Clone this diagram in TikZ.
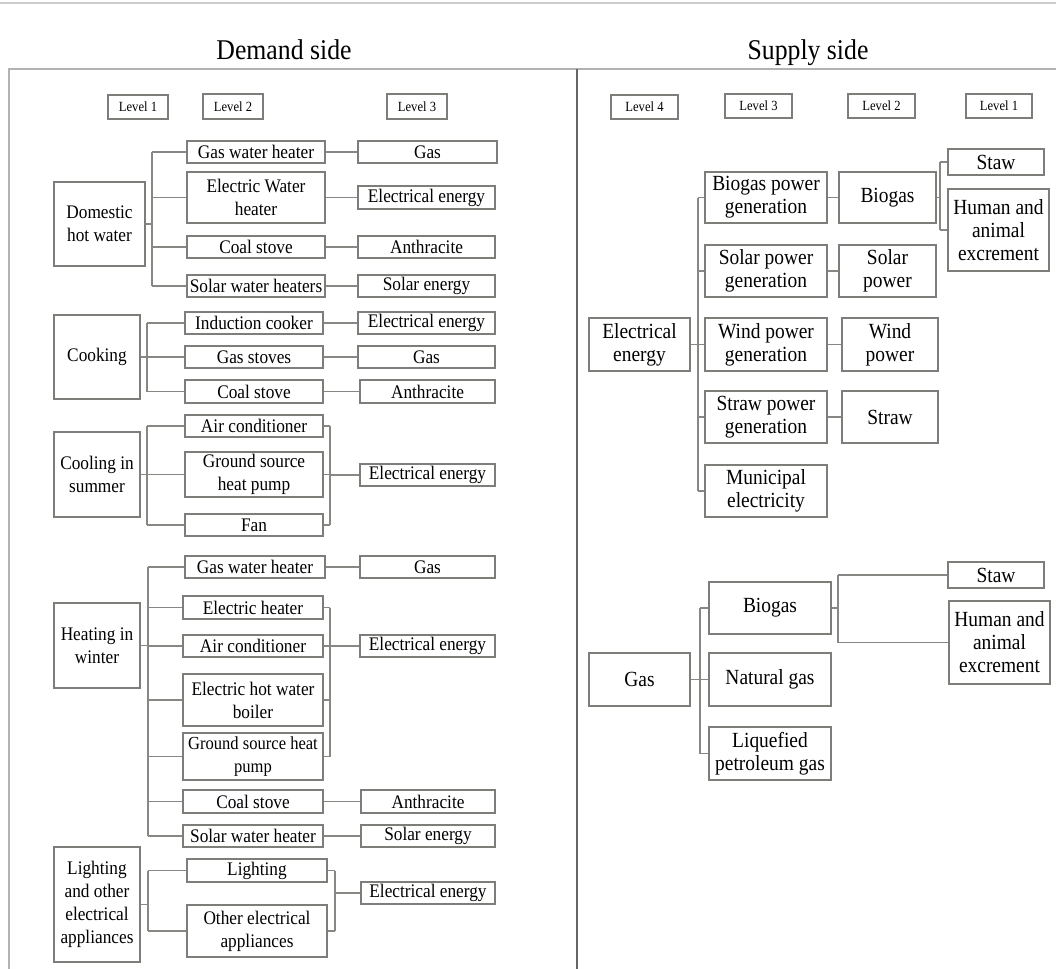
\documentclass[tikz,border=0pt]{standalone}
\usepackage{fontspec}
\setmainfont{Liberation Serif}[FakeStretch=0.9]
\newcommand\fL{\fontsize{9.6}{11.5}\selectfont}
\newcommand\fLs{\fontsize{9.2}{11.5}\selectfont}
\newcommand\fR{\fontsize{10.8}{11.5}\selectfont}
\newcommand\fT{\fontsize{14.3}{16}\selectfont}
\newcommand\fV{\fontsize{7}{8}\selectfont}
\definecolor{boxgray}{RGB}{125,125,122}
\definecolor{linegray}{RGB}{135,135,132}
\tikzset{
  box/.style={draw=boxgray, line width=0.6pt, inner sep=0pt, align=center, font=\fL},
  rbox/.style={font=\fR},
  lvl/.style={font=\fV},
  conn/.style={draw=linegray, line width=0.55pt},
}
\newcommand\BX[7][]{%
  \pgfmathsetmacro\bw{(#5-#3)*0.5}%
  \pgfmathsetmacro\bh{(#6-#4)*0.5}%
  \node[box,#1,minimum width=\bw pt,minimum height=\bh pt] (#2) at ({(#3+#5)/2},{(#4+#6)/2}) {#7};}
\begin{document}
\begin{tikzpicture}[x=0.5pt,y=-0.5pt]
\useasboundingbox (0,0) rectangle (1056,969);
% frame
\draw[black!20, line width=0.6pt] (0,3) -- (1056,3);
\draw[black!30, line width=0.6pt] (9,969) -- (9,69) -- (1056,69);
\draw[black!60, line width=0.6pt] (577,69) -- (577,969);
\node[font=\fT, anchor=base] (tdem) at (284,59) {Demand side};
\node[font=\fT, anchor=base] (tsup) at (808,59) {Supply side};
% level labels
\BX[lvl]{lv1}{108}{95}{168}{119}{Level 1}
\BX[lvl]{lv2}{203}{94}{263}{119}{Level 2}
\BX[lvl]{lv3}{387}{94}{447}{119}{Level 3}
\BX[lvl]{rv4}{611}{95}{678}{119}{Level 4}
\BX[lvl]{rv3}{725}{94}{792}{118}{Level 3}
\BX[lvl]{rv2}{848}{94}{915}{118}{Level 2}
\BX[lvl]{rv1}{966}{94}{1032}{118}{Level 1}
% ---------- Group A: Domestic hot water
\BX{dhw}{54}{182}{145}{266}{Domestic\\hot water}
\BX{a1}{187}{141}{325}{163}{Gas water heater}
\BX{a2}{187}{172}{325}{223}{Electric Water\\heater}
\BX{a3}{187}{236}{325}{258}{Coal stove}
\BX{a4}{187}{275}{325}{297}{Solar water heaters}
\BX{e1}{358}{141}{497}{163}{Gas}
\BX{e2}{358}{186}{495}{209}{Electrical energy}
\BX{e3}{358}{236}{495}{258}{Anthracite}
\BX{e4}{358}{275}{495}{297}{Solar energy}
\coordinate (tA) at (152,0);
\draw[conn] (dhw.east) -- (dhw.east -| tA);
\draw[conn] (a1.west -| tA) -- (a4.west -| tA);
\foreach \n/\m in {a1/e1,a2/e2,a3/e3,a4/e4}{
  \draw[conn] (\n.west -| tA) -- (\n.west);
  \draw[conn] (\n.east) -- (\n.east -| \m.west);
}
% ---------- Group B: Cooking
\BX{cook}{54}{315}{140}{399}{Cooking}
\BX{b1}{185}{312}{323}{334}{Induction cooker}
\BX{b2}{185}{346}{323}{368}{Gas stoves}
\BX{b3}{185}{380}{323}{403}{Coal stove}
\BX{f1}{358}{312}{495}{334}{Electrical energy}
\BX{f2}{358}{346}{495}{368}{Gas}
\BX{f3}{360}{380}{495}{403}{Anthracite}
\coordinate (tB) at (147,0);
\draw[conn] (cook.east) -- (cook.east -| tB);
\draw[conn] (b1.west -| tB) -- (b3.west -| tB);
\foreach \n/\m in {b1/f1,b2/f2,b3/f3}{
  \draw[conn] (\n.west -| tB) -- (\n.west);
  \draw[conn] (\n.east) -- (\n.east -| \m.west);
}
% ---------- Group C: Cooling in summer
\BX{cool}{54}{432}{140}{517}{Cooling in\\summer}
\BX{c1}{185}{415}{323}{437}{Air conditioner}
\BX{c2}{185}{452}{323}{497}{Ground source\\heat pump}
\BX{c3}{185}{514}{323}{536}{Fan}
\BX{g1}{360}{464}{495}{486}{Electrical energy}
\coordinate (tC) at (147,0);
\coordinate (rC) at (330,0);
\draw[conn] (cool.east) -- (cool.east -| tC);
\draw[conn] (c1.west -| tC) -- (c3.west -| tC);
\draw[conn] (c1.east -| rC) -- (c3.east -| rC);
\foreach \n in {c1,c2,c3}{
  \draw[conn] (\n.west -| tC) -- (\n.west);
  \draw[conn] (\n.east) -- (\n.east -| rC);
}
\draw[conn] (g1.west -| rC) -- (g1.west);
% ---------- Group D: Heating in winter
\BX{heat}{54}{603}{140}{688}{Heating in\\winter}
\BX{d1}{185}{556}{325}{578}{Gas water heater}
\BX{d2}{183}{596}{323}{619}{Electric heater}
\BX{d3}{183}{635}{323}{657}{Air conditioner}
\BX{d4}{183}{674}{323}{726}{Electric hot water\\boiler}
\BX[font=\fLs]{d5}{183}{733}{323}{780}{Ground source heat\\pump}
\BX{d6}{183}{790}{323}{813}{Coal stove}
\BX{d7}{183}{825}{323}{847}{Solar water heater}
\BX{h1}{360}{556}{495}{578}{Gas}
\BX{h2}{360}{635}{495}{657}{Electrical energy}
\BX{h3}{361}{790}{495}{813}{Anthracite}
\BX{h4}{361}{825}{495}{847}{Solar energy}
\coordinate (tD) at (148,0);
\coordinate (rD) at (330,0);
\draw[conn] (heat.east) -- (heat.east -| tD);
\draw[conn] (d1.west -| tD) -- (d7.west -| tD);
\foreach \n in {d1,d2,d3,d4,d5,d6,d7}{
  \draw[conn] (\n.west -| tD) -- (\n.west);
}
\foreach \n/\m in {d1/h1,d6/h3,d7/h4}{
  \draw[conn] (\n.east) -- (\n.east -| \m.west);
}
\draw[conn] (d2.east -| rD) -- (d5.east -| rD);
\foreach \n in {d2,d3,d4,d5}{
  \draw[conn] (\n.east) -- (\n.east -| rD);
}
\draw[conn] (h2.west -| rD) -- (h2.west);
% ---------- Group E: Lighting
\BX{light}{54}{847}{140}{962}{Lighting\\and other\\electrical\\appliances}
\BX{l1}{187}{859}{327}{882}{Lighting}
\BX{l2}{187}{905}{327}{957}{Other electrical\\appliances}
\BX{k1}{361}{882}{495}{904}{Electrical energy}
\coordinate (tE) at (148,0);
\coordinate (rE) at (335,0);
\draw[conn] (light.east) -- (light.east -| tE);
\draw[conn] (l1.west -| tE) -- (l2.west -| tE);
\draw[conn] (l1.east -| rE) -- (l2.east -| rE);
\foreach \n in {l1,l2}{
  \draw[conn] (\n.west -| tE) -- (\n.west);
  \draw[conn] (\n.east) -- (\n.east -| rE);
}
\draw[conn] (k1.west -| rE) -- (k1.west);
% ---------- Supply: Electrical energy
\BX[rbox]{ee}{589}{318}{690}{371}{Electrical\\energy}
\BX[rbox]{p1}{705}{172}{827}{223}{Biogas power\\generation}
\BX[rbox]{p2}{705}{245}{827}{297}{Solar power\\generation}
\BX[rbox]{p3}{705}{318}{827}{371}{Wind power\\generation}
\BX[rbox]{p4}{705}{391}{827}{443}{Straw power\\generation}
\BX[rbox]{p5}{705}{465}{827}{517}{Municipal\\electricity}
\BX[rbox]{q1}{839}{172}{936}{223}{Biogas}
\BX[rbox]{q2}{839}{245}{936}{297}{Solar\\power}
\BX[rbox]{q3}{842}{318}{938}{371}{Wind\\power}
\BX[rbox]{q4}{842}{391}{938}{443}{Straw}
\BX[rbox]{s1}{948}{149}{1044}{175}{Staw}
\BX[rbox]{s2}{948}{189}{1049}{271}{Human and\\animal\\excrement}
\coordinate (tR) at (698,0);
\coordinate (bR) at (940,0);
\draw[conn] (ee.east) -- (ee.east -| tR);
\draw[conn] (p1.west -| tR) -- (p5.west -| tR);
\foreach \n in {p1,p2,p3,p4,p5}{
  \draw[conn] (\n.west -| tR) -- (\n.west);
}
\foreach \n/\m in {p1/q1,p2/q2,p3/q3,p4/q4}{
  \draw[conn] (\n.east) -- (\n.east -| \m.west);
}
\draw[conn] (q1.east) -- (q1.east -| bR);
\draw[conn] (s1.west -| bR) -- (s2.west -| bR);
\draw[conn] (s1.west -| bR) -- (s1.west);
\draw[conn] (s2.west -| bR) -- (s2.west);
% ---------- Supply: Gas
\BX[rbox]{gas}{589}{653}{690}{706}{Gas}
\BX[rbox]{u1}{709}{582}{831}{634}{Biogas}
\BX[rbox]{u2}{709}{653}{831}{706}{Natural gas}
\BX[rbox]{u3}{709}{727}{831}{780}{Liquefied\\petroleum gas}
\BX[rbox]{v1}{948}{562}{1044}{588}{Staw}
\BX[rbox]{v2}{949}{601}{1050}{684}{Human and\\animal\\excrement}
\coordinate (tG) at (700,0);
\coordinate (bG) at (838,0);
\draw[conn] (gas.east) -- (gas.east -| tG);
\draw[conn] (u1.west -| tG) -- (u3.west -| tG);
\foreach \n in {u1,u2,u3}{
  \draw[conn] (\n.west -| tG) -- (\n.west);
}
\draw[conn] (u1.east) -- (u1.east -| bG);
\draw[conn] (v1.west -| bG) -- (v2.west -| bG);
\draw[conn] (v1.west -| bG) -- (v1.west);
\draw[conn] (v2.west -| bG) -- (v2.west);
\end{tikzpicture}
\end{document}
